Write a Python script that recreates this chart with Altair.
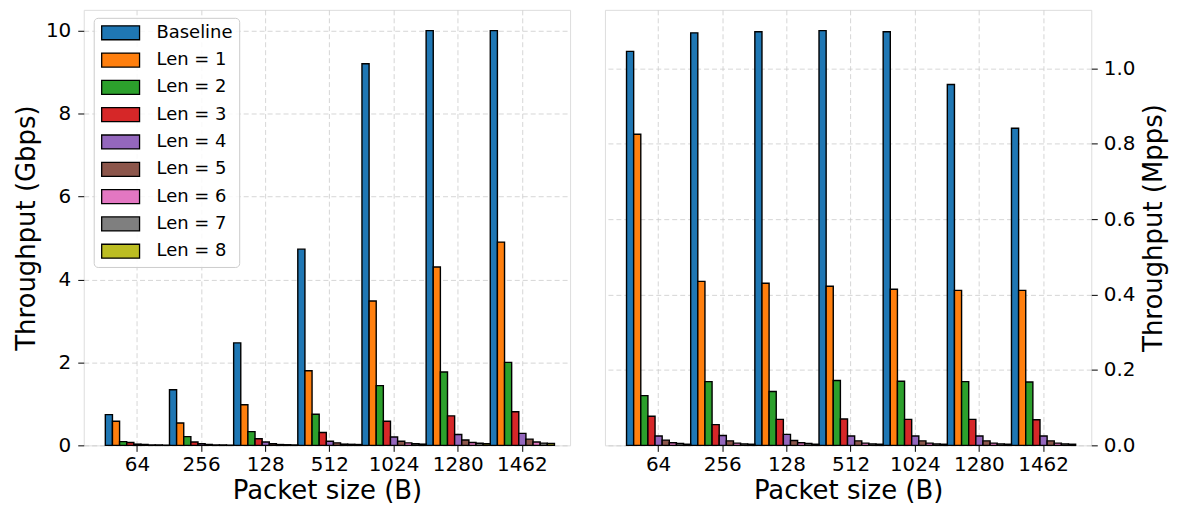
import altair as alt
import pandas as pd

sizes = ["64", "256", "128", "512", "1024", "1280", "1462"]
series = ["Baseline", "Len = 1", "Len = 2", "Len = 3", "Len = 4",
          "Len = 5", "Len = 6", "Len = 7", "Len = 8"]
colors = ["#1f77b4", "#ff7f0e", "#2ca02c", "#d62728", "#9467bd",
          "#8c564b", "#e377c2", "#7f7f7f", "#bcbd22"]

# Throughput in Gbps (left panel), one list per series, in the order of `sizes`
gbps_baseline = [0.74, 1.34, 2.47, 4.73, 9.20, 10.0, 10.0]
gbps_len1 = [0.58, 0.54, 0.98, 1.80, 3.48, 4.30, 4.90]
gbps_len2 = [0.09, 0.21, 0.33, 0.75, 1.44, 1.77, 2.00]
gbps_len3 = [0.07, 0.08, 0.16, 0.31, 0.58, 0.71, 0.81]
gbps_len4 = [0.03, 0.04, 0.08, 0.10, 0.20, 0.26, 0.29]
gbps_len5 = [0.02, 0.02, 0.04, 0.06, 0.10, 0.13, 0.15]
gbps_len6 = [0.01, 0.01, 0.02, 0.03, 0.06, 0.07, 0.08]
gbps_len7 = [0.01, 0.01, 0.015, 0.025, 0.04, 0.05, 0.055]
gbps_len8 = [0.005, 0.005, 0.01, 0.02, 0.03, 0.04, 0.045]

# Throughput in Mpps (right panel)
mpps_baseline = [1.045, 1.094, 1.097, 1.100, 1.097, 0.957, 0.841]
mpps_len1 = [0.825, 0.435, 0.430, 0.422, 0.414, 0.411, 0.411]
mpps_len2 = [0.132, 0.169, 0.143, 0.172, 0.170, 0.169, 0.168]
mpps_len3 = [0.077, 0.055, 0.069, 0.070, 0.069, 0.069, 0.068]
mpps_len4 = [0.025, 0.026, 0.029, 0.025, 0.025, 0.025, 0.025]
mpps_len5 = [0.014, 0.012, 0.013, 0.012, 0.012, 0.012, 0.012]
mpps_len6 = [0.007, 0.006, 0.007, 0.006, 0.006, 0.006, 0.006]
mpps_len7 = [0.005, 0.004, 0.005, 0.004, 0.004, 0.004, 0.004]
mpps_len8 = [0.003, 0.003, 0.003, 0.003, 0.003, 0.003, 0.003]

gbps_all = [gbps_baseline, gbps_len1, gbps_len2, gbps_len3, gbps_len4,
            gbps_len5, gbps_len6, gbps_len7, gbps_len8]
mpps_all = [mpps_baseline, mpps_len1, mpps_len2, mpps_len3, mpps_len4,
            mpps_len5, mpps_len6, mpps_len7, mpps_len8]


def table(values):
    rows = []
    for s, vals in zip(series, values):
        for size, v in zip(sizes, vals):
            rows.append({"size": size, "series": s, "value": v})
    return pd.DataFrame(rows)


FONT = "DejaVu Sans"
W, H = 488, 437
TITLE_FS = 26
LABEL_FS = 20

# wide rectangle legend swatch (starts at the symbol's left edge)
legend_path = "M-1,-1L4.43,-1L4.43,1L-1,1Z"

grid_kw = dict(grid=True, gridColor="#cccccc", gridDash=[5, 3], gridOpacity=0.8)
title_kw = dict(titleFontSize=TITLE_FS, titleFont=FONT, titleFontWeight="normal",
                titleColor="black")
label_kw = dict(labelFontSize=LABEL_FS, labelFont=FONT, labelColor="black")


def panel(df, ytitle, ymax, ticks, orient, fmt, show_legend):
    if show_legend:
        legend = alt.Legend(
            title=None, orient="none", legendX=10, legendY=8,
            symbolType=legend_path, symbolSize=196, symbolStrokeColor="black",
            symbolStrokeWidth=1.3, symbolOpacity=1,
            labelFontSize=18, labelFont=FONT, labelColor="black", labelOffset=39,
            rowPadding=7.4, padding=6, fillColor="rgba(255,255,255,0.85)",
            strokeColor="#cccccc", cornerRadius=4,
        )
    else:
        legend = None
    if orient == "left":
        yaxis = alt.Axis(
            orient=orient, values=ticks, format=fmt, title=ytitle,
            labelPadding=7, tickSize=6, tickColor="black", domain=False,
            titlePadding=6, **title_kw, **label_kw, **grid_kw,
        )
    else:
        yaxis = alt.Axis(
            orient=orient, values=ticks, format=fmt, title=ytitle,
            titleAngle=270, titleBaseline="top",
            labelPadding=6, tickSize=6, tickColor="black", domain=False,
            titlePadding=6, **title_kw, **label_kw, **grid_kw,
        )
    xaxis = alt.Axis(
        title="Packet size (B)", labelAngle=0, bandPosition=0.5,
        labelPadding=3, tickSize=6, tickColor="black", domain=False,
        titlePadding=3, **title_kw, **label_kw, **grid_kw,
    )
    return alt.Chart(df).mark_bar(stroke="black", strokeWidth=1.4, opacity=1).encode(
        x=alt.X("size:N", sort=sizes,
                scale=alt.Scale(paddingInner=0, paddingOuter=0.29, align=0.58),
                axis=xaxis),
        xOffset=alt.XOffset("series:N", sort=series,
                            scale=alt.Scale(paddingInner=0, paddingOuter=0)),
        y=alt.Y("value:Q", scale=alt.Scale(domain=[0, ymax], nice=False, zero=True),
                axis=yaxis),
        color=alt.Color("series:N", sort=series,
                        scale=alt.Scale(domain=series, range=colors), legend=legend),
    ).properties(width=W, height=H)


left = panel(table(gbps_all), "Throughput (Gbps)", 10.5, [0, 2, 4, 6, 8, 10],
             "left", "d", True)
right = panel(table(mpps_all), "Throughput (Mpps)", 1.155, [0, 0.2, 0.4, 0.6, 0.8, 1.0],
              "right", ".1f", False)

chart = alt.hconcat(left, right, spacing=33).resolve_scale(
    color="independent", x="independent", y="independent"
).resolve_legend(color="independent").configure_view(
    stroke="black", strokeWidth=1.3
).properties(
    padding={"left": 5, "top": 0, "right": 3, "bottom": 2}
).configure(font=FONT)

chart.save("out.html", embed_options={"renderer": "svg", "actions": False})
